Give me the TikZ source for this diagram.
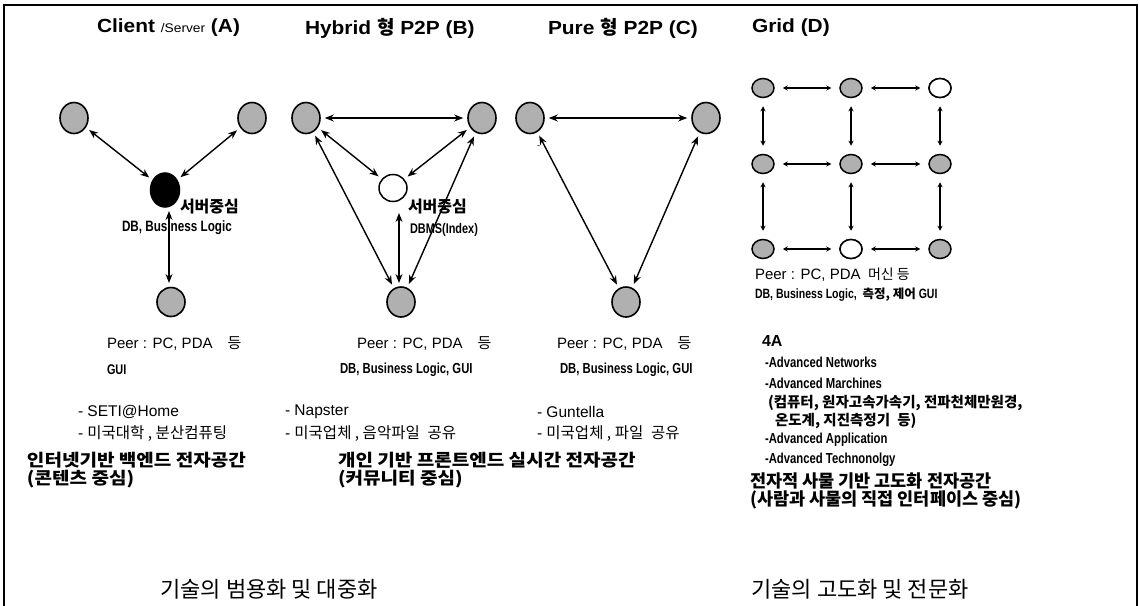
\documentclass[tikz,border=0pt]{standalone}
\usepackage{fontspec}
\setmainfont{Liberation Sans}
\newfontfamily\kr{Noto Sans CJK KR}
\newfontfamily\krw[FakeStretch=1.12]{Noto Sans CJK KR}
\newfontfamily\narrowb[FakeStretch=0.78]{Liberation Sans}
\newfontfamily\titlef[FakeStretch=1.1]{Liberation Sans}
\usetikzlibrary{arrows.meta,shapes.geometric}
\newcommand\fs[1]{\fontsize{#1}{#1}\selectfont}
\tikzset{
  txt/.style={anchor=west, inner sep=0pt, outer sep=0pt},
  peer/.style={ellipse, draw, line width=1.6pt, fill=gray!62, minimum width=28pt, minimum height=31pt, inner sep=0pt},
  server/.style={ellipse, draw, line width=1.5pt, minimum width=28pt, minimum height=27pt, inner sep=0pt},
  gpeer/.style={ellipse, draw, line width=1.5pt, fill=gray!62, minimum width=22pt, minimum height=19pt, inner sep=0pt},
  gfree/.style={gpeer, fill=white},
  link/.style={{Stealth[length=9pt,width=7pt]}-{Stealth[length=9pt,width=7pt]}, line width=1.4pt, shorten >=4pt, shorten <=4pt},
  glink/.style={{Stealth[length=5pt,width=5pt]}-{Stealth[length=5pt,width=5pt]}, line width=1.3pt, shorten >=8pt, shorten <=8pt},
  frame/.style={line width=1.6pt},
  head/.style={txt, font=\krw\bfseries\fs{17}},
}
\begin{document}
\begin{tikzpicture}[x=1pt,y=-1pt]
\useasboundingbox (0,0) rectangle (1140,605);
% outer frame (open at the bottom edge)
\draw[frame] (4,610) -- (4,5) -- (1137,5) -- (1137,610);

% ---------- titles ----------
\node[txt] (tA) at (97,28) {\titlef\fs{19}\bfseries Client {\fs{12.5}\mdseries /Server} (A)};
\node[txt] (tB) at (305,28) {\titlef\fs{19}\bfseries Hybrid {\kr 형} P2P (B)};
\node[txt] (tC) at (548,28) {\titlef\fs{19}\bfseries Pure {\kr 형} P2P (C)};
\node[txt] (tD) at (752,28) {\titlef\fs{19}\bfseries Grid (D)};

% ---------- (A) client / server ----------
\node[peer] (a1) at (74,118) {};
\node[peer] (a2) at (252,118) {};
\node[server, fill=black, minimum width=29pt, minimum height=34pt] (a0) at (165,190) {};
\node[peer, minimum height=29pt] (a3) at (171,302) {};
\draw[link] (a1) -- (a0);
\draw[link] (a2) -- (a0);
\coordinate (a0s) at (169,207);
\coordinate (a3n) at (169,287);
\draw[link] (a0s) -- (a3n);
\node[txt] (aS) at (180,207) {\kr\bfseries\fs{16}서버중심};
\node[txt] (aL) at (122,228) {\narrowb\bfseries\fs{15}DB, Business Logic};
\node[txt] (aP) at (107,344) {\fs{15}Peer : PC, PDA\quad{\kr 등}};
\node[txt] (aG) at (107,370) {\narrowb\bfseries\fs{14}GUI};
\node[txt] (aE1) at (78,412) {\fs{15.5}- SETI@Home};
\node[txt] (aE2) at (78,434) {\fs{15.5}- {\kr 미국대학 , 분산컴퓨팅}};
\node[head] (aD1) at (27,460) {인터넷기반 백엔드 전자공간};
\node[head] (aD2) at (27,479) {(콘텐츠 중심)};
\node (fL) at (269,589) {\kr\fs{22}기술의 범용화 및 대중화};

% ---------- (B) hybrid P2P ----------
\node[peer] (b1) at (306,118) {};
\node[peer] (b2) at (482,118) {};
\node[server, fill=white] (b0) at (393,188) {};
\node[peer, minimum height=30pt] (b3) at (401,302) {};
\draw[link] (b1) -- (b2);
\draw[link] (b1) -- (b0);
\draw[link] (b2) -- (b0);
\draw[link] (b1) -- (b3);
\draw[link] (b2) -- (b3);
\coordinate (b0s) at (399,209);
\coordinate (b3n) at (399,287);
\draw[link] (b0s) -- (b3n);
\node[txt] (bS) at (408,207) {\kr\bfseries\fs{16}서버중심};
\node[txt] (bL) at (410,230) {\narrowb\bfseries\fs{14}DBMS(Index)};
\node[txt] (bP) at (357,344) {\fs{15}Peer : PC, PDA\quad{\kr 등}};
\node[txt] (bG) at (340,370) {\narrowb\bfseries\fs{14.5}DB, Business Logic, GUI};
\node[txt] (bE1) at (285,412) {\fs{15.5}- Napster};
\node[txt] (bE2) at (285,434) {\fs{15.5}- {\kr 미국업체 , 음악파일\enspace 공유}};
\node[head] (bD1) at (338,460) {개인 기반 프론트엔드 실시간 전자공간};
\node[head] (bD2) at (338,479) {(커뮤니티 중심)};

% ---------- (C) pure P2P ----------
\node[peer] (c1) at (530,118) {};
\node[peer] (c2) at (706,118) {};
\node[peer, minimum height=30pt] (c3) at (626,302) {};
\draw[link] (c1) -- (c2);
\draw[link] (c1) -- (c3);
\draw[link] (c2) -- (c3);
\node[txt] (cT) at (537,147) {\fs{9}-};
\node[txt] (cP) at (557,344) {\fs{15}Peer : PC, PDA\quad{\kr 등}};
\node[txt] (cG) at (560,370) {\narrowb\bfseries\fs{14.5}DB, Business Logic, GUI};
\node[txt] (cE1) at (537,412) {\fs{15.5}- Guntella};
\node[txt] (cE2) at (537,434) {\fs{15.5}- {\kr 미국업체 , 파일\enspace 공유}};

% ---------- (D) grid ----------
\foreach \r/\y in {1/88,2/164,3/249}{
  \foreach \c/\x in {1/763,2/851,3/940}{
    \node[gpeer] (g\r\c) at (\x,\y) {};
  }
}
\node[gfree] at (g13) {};
\node[gfree] at (g32) {};
\foreach \r in {1,2,3}{
  \draw[glink] (g\r1) -- (g\r2);
  \draw[glink] (g\r2) -- (g\r3);
}
\foreach \c in {1,2,3}{
  \draw[glink] (g1\c) -- (g2\c);
  \draw[glink] (g2\c) -- (g3\c);
}
\node[txt] (dP) at (755,275) {\fs{15}Peer : PC, PDA\enspace{\kr\fs{14}머신 등}};
\node[txt] (dL) at (755,295) {\narrowb\bfseries\fs{13.5}DB, Business Logic, {\kr\fs{12.5} 측정, 제어} GUI};
\node[txt] (d4) at (762,341) {\fs{16}\bfseries 4A};
\node[txt] (dA1) at (765,362) {\narrowb\bfseries\fs{14.5}-Advanced Networks};
\node[txt] (dA2) at (765,383) {\narrowb\bfseries\fs{14.5}-Advanced Marchines};
\node[txt] (dA3) at (768,403) {\kr\bfseries\fs{14.5}(컴퓨터, 원자고속가속기, 전파천체만원경,};
\node[txt] (dA4) at (775,421) {\kr\bfseries\fs{14.5}온도계, 지진측정기\enspace 등)};
\node[txt] (dA5) at (765,440) {\narrowb\bfseries\fs{14.5}-Advanced Application};
\node[txt] (dA6) at (765,460) {\narrowb\bfseries\fs{14.5}-Advanced Technonolgy};
\node[head, font=\kr\bfseries\fs{17.5}] (dD1) at (750,481) {전자적 사물 기반 고도화 전자공간};
\node[head, font=\kr\bfseries\fs{17.5}] (dD2) at (750,500) {(사람과 사물의 직접 인터페이스 중심)};
\node (fR) at (860,589) {\kr\fs{22}기술의 고도화 및 전문화};
\end{tikzpicture}
\end{document}
